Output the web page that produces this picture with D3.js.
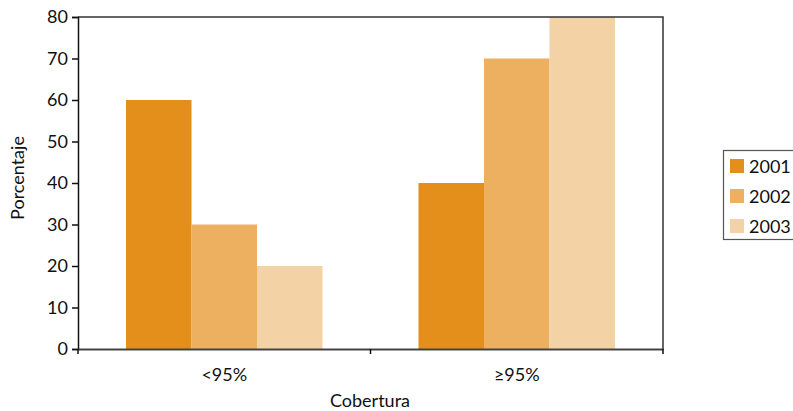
<!DOCTYPE html>
<html><head><meta charset="utf-8">
<script src="https://cdn.jsdelivr.net/npm/d3@7"></script>
<style>body{margin:0;background:#fff}svg text{font-family:Lato,sans-serif;fill:#111}</style>
</head><body><svg id="c" width="793" height="411"></svg>
<script>
const categories = ["<95%", "\u226595%"];
const years = ["2001", "2002", "2003"];
const v2001 = [60, 40];
const v2002 = [30, 70];
const v2003 = [20, 80];
const yTicks = [0,10,20,30,40,50,60,70,80];
const colors = ["#E48F1B", "#ECB060", "#F3D2A5"];

const series = [v2001, v2002, v2003];
const svg = d3.select("#c");
const m = {l:78, r:663, t:17, b:349};
const fs = 18;
const x0 = d3.scaleBand().domain(categories).range([m.l, m.r]).paddingInner(0).paddingOuter(0);
const x1 = d3.scaleBand().domain(years).range([0, x0.bandwidth()]).paddingInner(0).paddingOuter(0.733);
const y = d3.scaleLinear().domain([0,80]).range([m.b, m.t]);

// bars
categories.forEach((c,ci)=>{
  years.forEach((yr,si)=>{
    svg.append("rect").attr("x", x0(c)+x1(yr)).attr("y", y(series[si][ci]))
      .attr("width", x1.bandwidth()).attr("height", y(0)-y(series[si][ci]))
      .attr("fill", colors[si]);
  });
});

// frame top/right
svg.append("path").attr("d",`M${m.l},${m.t}H${m.r}V${m.b}`).attr("fill","none").attr("stroke","#333").attr("stroke-width",1.5);

// y axis
const ya = svg.append("g").attr("transform",`translate(${m.l},0)`)
  .call(d3.axisLeft(y).tickValues(yTicks).tickSize(6).tickPadding(4));
ya.select(".domain").attr("stroke","#111").attr("stroke-width",1.5);
ya.selectAll("line").attr("stroke","#111").attr("stroke-width",1.5);
ya.selectAll("text").attr("font-size",fs).style("fill","#111");

// x axis
const xa = svg.append("g").attr("transform",`translate(0,${m.b})`)
  .call(d3.axisBottom(x0).tickSize(0).tickPadding(19));
xa.select(".domain").attr("stroke","#444").attr("stroke-width",2);
xa.selectAll("text").attr("font-size",fs).style("fill","#111");
// boundary ticks
[m.l, m.l + x0.bandwidth(), m.r].forEach(px=>{
  svg.append("line").attr("x1",px).attr("x2",px).attr("y1",m.b).attr("y2",m.b+5).attr("stroke","#111").attr("stroke-width",1.5);
});

// axis titles
svg.append("text").attr("x",370).attr("y",407).attr("text-anchor","middle").attr("font-size",fs).text("Cobertura");
svg.append("text").attr("transform","translate(24,178) rotate(-90)").attr("text-anchor","middle").attr("font-size",fs).text("Porcentaje");

// legend
const lg = svg.append("g");
lg.append("rect").attr("x",723.5).attr("y",150.5).attr("width",80).attr("height",89).attr("fill","#fff").attr("stroke","#555").attr("stroke-width",1.2);
years.forEach((yr,i)=>{
  lg.append("rect").attr("x",730).attr("y",159+i*30).attr("width",14).attr("height",14).attr("fill",colors[i]);
  lg.append("text").attr("x",749).attr("y",173+i*30).attr("font-size",fs).text(yr);
});
</script></body></html>
